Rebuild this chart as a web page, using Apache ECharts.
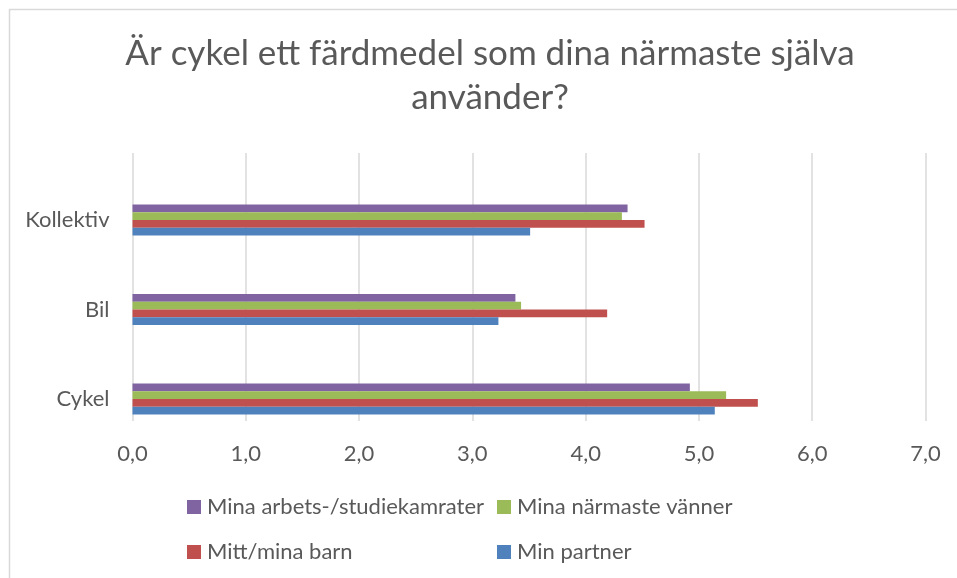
<!DOCTYPE html>
<html>
<head>
<meta charset="utf-8">
<script src="https://cdn.jsdelivr.net/npm/echarts@6/dist/echarts.min.js"></script>
<style>html,body{margin:0;padding:0;background:#fff}#c{width:957px;height:578px}</style>
</head>
<body>
<div id="c"></div>
<script>
const categories = ['Cykel', 'Bil', 'Kollektiv'];
const minPartner = [5.14, 3.23, 3.51];
const mittMinaBarn = [5.52, 4.19, 4.52];
const minaVanner = [5.24, 3.43, 4.32];
const minaKamrater = [4.92, 3.38, 4.37];
const xTicks = [0, 1, 2, 3, 4, 5, 6, 7];
const titleText = 'Är cykel ett färdmedel som dina närmaste själva\nanvänder?';

const FONT = 'Lato';
const TXT = '#595959';
const chart = echarts.init(document.getElementById('c'));

function legendAt(name, left, top) {
  return {
    data: [name], left: left, top: top, orient: 'horizontal',
    icon: 'rect', itemWidth: 14, itemHeight: 14, padding: 0,
    textStyle: { color: TXT, fontSize: 22, fontFamily: FONT, padding: [0, 0, 0, 1] },
    selectedMode: false
  };
}

const common = { type: 'bar', barWidth: 7.75, barGap: '0%', xAxisIndex: 1, yAxisIndex: 0 };

chart.setOption({
  animation: false,
  backgroundColor: '#fff',
  title: {
    text: titleText, left: 485, textAlign: 'center', top: 27,
    textStyle: { color: TXT, fontSize: 35, fontWeight: 'normal', fontFamily: FONT, lineHeight: 44, align: 'center' }
  },
  graphic: [{
    type: 'rect', shape: { x: 9.5, y: 9.5, width: 1000, height: 1000 },
    style: { fill: 'none', stroke: '#d9d9d9', lineWidth: 1.5 }, silent: true
  }],
  legend: [
    legendAt('Mina arbets-/studiekamrater', 187, 496),
    legendAt('Mina närmaste vänner', 497, 496),
    legendAt('Mitt/mina barn', 187, 541),
    legendAt('Min partner', 497, 541)
  ],
  grid: [
    { left: 132.5, right: 31.5, top: 153, bottom: 157 },
    { left: 132.5, right: 31.5, top: 175.25, bottom: 134.25 }
  ],
  xAxis: [{
    gridIndex: 0, type: 'value', min: 0, max: 7, interval: 1,
    axisLine: { show: false }, axisTick: { show: false },
    splitLine: { show: true, lineStyle: { color: '#d9d9d9', width: 1.5 } },
    axisLabel: {
      color: TXT, fontSize: 22, fontFamily: FONT, margin: 22,
      formatter: v => xTicks.includes(v) ? v.toFixed(1).replace('.', ',') : ''
    }
  }, {
    gridIndex: 1, type: 'value', min: 0, max: 7, interval: 1, show: false
  }],
  yAxis: [{
    gridIndex: 1, type: 'category', data: categories,
    axisLine: { show: false }, axisTick: { show: false }, splitLine: { show: false },
    axisLabel: { color: TXT, fontSize: 22, fontFamily: FONT, margin: 23 }
  }, {
    gridIndex: 0, type: 'category', data: categories, show: false
  }],
  series: [
    Object.assign({ name: 'Mina arbets-/studiekamrater', data: minaKamrater, itemStyle: { color: '#8064A2' } }, common),
    Object.assign({ name: 'Mina närmaste vänner', data: minaVanner, itemStyle: { color: '#9BBB59' } }, common),
    Object.assign({ name: 'Mitt/mina barn', data: mittMinaBarn, itemStyle: { color: '#C0504D' } }, common),
    Object.assign({ name: 'Min partner', data: minPartner, itemStyle: { color: '#4F81BD' } }, common)
  ]
});
</script>
</body>
</html>
